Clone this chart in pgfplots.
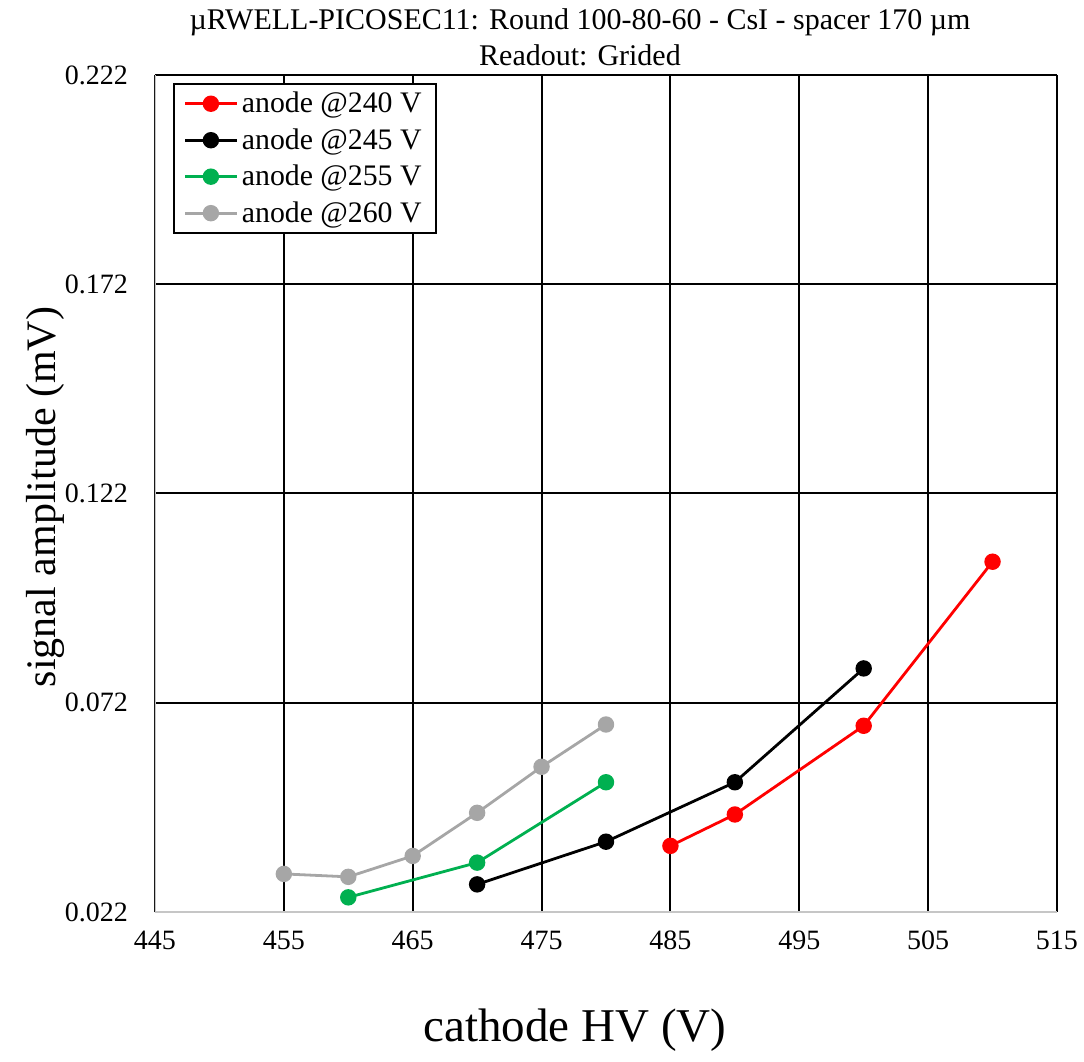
\documentclass[border=0pt]{standalone}
\usepackage{pgfplots}
\pgfplotsset{compat=1.18}
\usepackage{fontspec}
\setmainfont{Liberation Serif}
\definecolor{cred}{RGB}{255,0,0}
\definecolor{cgreen}{RGB}{0,176,80}
\definecolor{cgray}{RGB}{166,166,166}
\begin{document}
\begin{tikzpicture}
\path[use as bounding box] (-77.5pt,-75pt) rectangle (464.5pt,456pt);
\begin{axis}[
  at={(0pt,0pt)}, anchor=south west,
  scale only axis, width=451pt, height=418.5pt,
  xmin=445, xmax=515, ymin=0.022, ymax=0.222,
  xtick={445,455,...,515},
  ytick={0.022,0.072,0.122,0.172,0.222},
  yticklabels={0.022,0.072,0.122,0.172,0.222},
  /pgf/number format/assume math mode=true,
  xticklabel style={font=\fontsize{14}{16}\selectfont, yshift=-6pt},
  yticklabel style={font=\fontsize{14}{16}\selectfont, xshift=-10pt},
  major tick length=0pt,
  grid=major,
  major grid style={black, line width=1pt},
  axis line style={draw=none},
  legend style={anchor=north west, at={(9pt,414.5pt)},
    draw=black, line width=0.9pt, font=\fontsize{14.9}{17}\selectfont,
    row sep=2.4pt, inner xsep=5pt, inner ysep=2pt},
  legend cell align=left,
  legend image code/.code={\draw[mark repeat=2,mark phase=2] plot coordinates {(0cm,0cm) (0.45cm,0cm) (0.9cm,0cm)};},
]
\addplot[cred, line width=1.4pt, mark=*, mark size=3.4pt, mark options={solid}] coordinates {
(485,0.0378) (490,0.0453) (500,0.0665) (510,0.1057)};
\addlegendentry{anode @240 V}
\addplot[black, line width=1.4pt, mark=*, mark size=3.4pt] coordinates {
(470,0.0286) (480,0.0388) (490,0.0530) (500,0.0802)};
\addlegendentry{anode @245 V}
\addplot[cgreen, line width=1.4pt, mark=*, mark size=3.4pt] coordinates {
(460,0.0255) (470,0.0338) (480,0.0530)};
\addlegendentry{anode @255 V}
\addplot[cgray, line width=1.4pt, mark=*, mark size=3.4pt] coordinates {
(455,0.0311) (460,0.0304) (465,0.0354) (470,0.0457) (475,0.0567) (480,0.0668)};
\addlegendentry{anode @260 V}
\draw[gray!45, line width=1pt] (rel axis cs:0,1) -- (rel axis cs:0,0) -- (rel axis cs:1,0);
\draw[black, line width=1pt] ([yshift=1.5pt]rel axis cs:0,1) -- ([yshift=1.5pt]rel axis cs:1,1);
\end{axis}
\node[font=\fontsize{15}{17}\selectfont] at (212.5pt,445pt) {µRWELL-PICOSEC11: Round 100-80-60 - CsI - spacer 170 µm};
\node[font=\fontsize{15}{17}\selectfont] at (212.5pt,428.5pt) {Readout: Grided};
\node[font=\fontsize{21}{23}\selectfont, rotate=90] at (-55pt,207.5pt) {signal amplitude (mV)};
\node[font=\fontsize{23.5}{26}\selectfont] at (210pt,-59pt) {cathode HV (V)};
\end{tikzpicture}
\end{document}
